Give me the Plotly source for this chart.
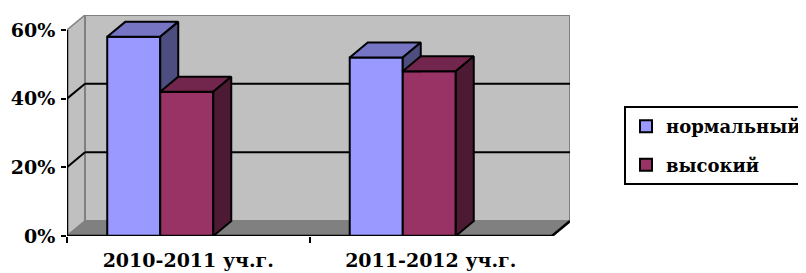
import plotly.graph_objects as go

# ---------------- data ----------------
categories = ["2010-2011 уч.г.", "2011-2012 уч.г."]
series_names = ["нормальный", "высокий"]
normal = [58, 52]
high = [42, 48]
y_ticks = [0, 20, 40, 60]
y_tick_labels = ["0%", "20%", "40%", "60%"]

# ---------------- style ----------------
front_colors = ["#9999FF", "#993366"]
top_colors = ["#7575C4", "#73264D"]
side_colors = ["#4D4D80", "#4D1A33"]
WALL = "#C0C0C0"
FLOOR = "#808080"
EDGE = "#808080"
FONT = "DejaVu Serif"

BAR_W = 0.2186
GROUP_SHIFT = -0.1155
DX = 0.0742
DY = 4.36
YMAX = y_ticks[-1]
XMIN = -0.5
XMAX = len(categories) - 0.5

series = [normal, high]
fig = go.Figure()

offsets = []
for s, (name, vals) in enumerate(zip(series_names, series)):
    off = GROUP_SHIFT - BAR_W * len(series) / 2 + s * BAR_W
    offsets.append(off)
    fig.add_trace(go.Bar(
        x=list(range(len(categories))), y=vals, width=BAR_W, offset=off,
        name=name, legendgroup=name,
        marker=dict(color=front_colors[s], line=dict(color="black", width=2)),
        hoverinfo="y+name",
    ))

for i in range(len(categories)):
    for s, vals in enumerate(series):
        v = vals[i]
        x0 = i + offsets[s]
        x1 = x0 + BAR_W
        fig.add_trace(go.Scatter(
            x=[x0, x1, x1 + DX, x0 + DX, x0],
            y=[v, v, v + DY, v + DY, v],
            mode="lines", fill="toself", fillcolor=top_colors[s],
            line=dict(color="black", width=2),
            showlegend=False, hoverinfo="skip",
        ))
        lo = min(series[s + 1][i], v) if s + 1 < len(series) else 0
        fig.add_trace(go.Scatter(
            x=[x1, x1, x1 + DX, x1 + DX, x1],
            y=[lo, v, v + DY, max(lo, DY), lo],
            mode="lines", fill="toself", fillcolor=side_colors[s],
            line=dict(color="black", width=2),
            showlegend=False, hoverinfo="skip",
        ))

shapes = []
shapes.append(dict(type="path", layer="below", xref="x", yref="y",
                   path=f"M{XMIN},0 L{XMIN},{YMAX} L{XMIN+DX},{YMAX+DY} L{XMIN+DX},{DY} Z",
                   fillcolor=WALL, line=dict(color=EDGE, width=1.5)))
shapes.append(dict(type="rect", layer="below", xref="x", yref="y",
                   x0=XMIN + DX, x1=XMAX + DX, y0=DY, y1=YMAX + DY,
                   fillcolor=WALL, line=dict(color=EDGE, width=2)))
shapes.append(dict(type="path", layer="below", xref="x", yref="y",
                   path=f"M{XMIN},0 L{XMAX},0 L{XMAX+DX},{DY} L{XMIN+DX},{DY} Z",
                   fillcolor=FLOOR, line=dict(color=EDGE, width=1.5)))
for t in y_ticks[1:-1]:
    shapes.append(dict(type="line", layer="below", xref="x", yref="y",
                       x0=XMIN + DX, x1=XMAX + DX, y0=t + DY, y1=t + DY,
                       line=dict(color="black", width=2)))
    shapes.append(dict(type="line", layer="below", xref="x", yref="y",
                       x0=XMIN, x1=XMIN + DX, y0=t, y1=t + DY,
                       line=dict(color="black", width=2)))
shapes.append(dict(type="line", layer="above", xref="x", yref="y",
                   x0=XMIN, x1=XMAX, y0=0, y1=0, line=dict(color="black", width=2.5)))
shapes.append(dict(type="line", layer="above", xref="x", yref="y",
                   x0=XMAX, x1=XMAX + DX, y0=0, y1=DY, line=dict(color="black", width=2.5)))
shapes.append(dict(type="line", layer="above", xref="x", yref="y",
                   x0=XMIN, x1=XMIN, y0=0, y1=YMAX, line=dict(color="black", width=2.5)))

boundaries = [i - 0.5 for i in range(len(categories))]

fig.update_layout(
    width=806, height=273,
    margin=dict(l=59, r=244, t=7, b=45, autoexpand=False),
    paper_bgcolor="white", plot_bgcolor="white",
    barmode="overlay",
    shapes=shapes,
    font=dict(family=FONT, color="black", size=19, weight="bold"),
    showlegend=True,
    legend=dict(
        x=(616 - 59) / 503, y=0.588, xanchor="left", yanchor="top",
        bordercolor="black", borderwidth=2, bgcolor="white",
        font=dict(family=FONT, size=18, color="black", weight="bold"),
        traceorder="grouped", tracegroupgap=12,
    ),
    xaxis=dict(
        range=[XMIN, XMAX + DX], showgrid=False, zeroline=False, showline=False,
        tickvals=list(range(len(categories))), ticktext=categories, ticks="",
        tickfont=dict(family=FONT, size=19, color="black", weight="bold"),
        ticklabelstandoff=11,
        minor=dict(tickvals=boundaries, ticks="outside", ticklen=6,
                   tickwidth=2, tickcolor="black"),
        fixedrange=True,
    ),
    yaxis=dict(
        range=[0, YMAX + DY], showgrid=False, zeroline=False, showline=False,
        tickvals=y_ticks, ticktext=y_tick_labels,
        ticks="outside", ticklen=5, tickwidth=2, tickcolor="black",
        tickfont=dict(family=FONT, size=19, color="black", weight="bold"),
        ticklabelstandoff=2,
        fixedrange=True,
    ),
)

fig.write_html("out.html")
